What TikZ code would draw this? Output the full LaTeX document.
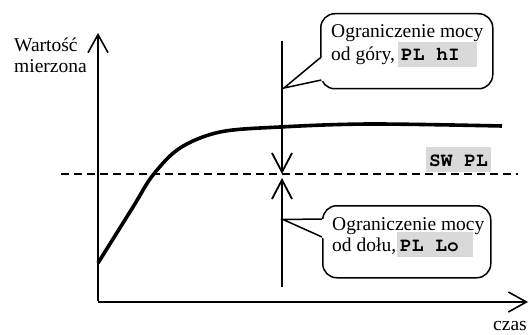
\documentclass[tikz,border=0pt]{standalone}
\usepackage[T1]{fontenc}
\usepackage{fontspec}
\setmainfont{Liberation Serif}
\usetikzlibrary{arrows.meta}
\definecolor{codegray}{RGB}{217,217,217}
% bold Courier for the parameter codes, one full cell between words
\newcommand{\codefontsel}{\fontencoding{T1}\fontfamily{pcr}\fontseries{b}\fontshape{n}\fontsize{19.5}{21}\selectfont}
\newcommand{\cell}{\hspace{0.6em}}
\begin{document}
\begin{tikzpicture}[x=1pt,y=-1pt,
  font=\fontsize{19.5}{21}\selectfont,
  every node/.style={inner sep=0pt},
  axis/.style={line width=1.6pt,-{Straight Barb[length=18pt,width=20pt,sharp]}},
  curve/.style={line width=3.6pt},
  level/.style={line width=1.6pt,dash pattern=on 8pt off 5pt},
  limit/.style={line width=1.8pt,-{Straight Barb[length=19pt,width=20pt,sharp]}},
  bubble/.style={draw,line width=1.5pt,rounded corners=14pt,fill=white},
  pointer/.style={line width=1.5pt},
  txt/.style={anchor=base west},
  code/.style={fill=codegray,anchor=base west,font=\codefontsel,
    inner xsep=3pt,inner ysep=0pt,text height=19pt,text depth=6pt,align=left}
]
\useasboundingbox (0,0) rectangle (529,334);

% axes
\coordinate (origin) at (98,302);
\coordinate (ytop) at (98,33);
\coordinate (xend) at (528,302);
\draw[axis] ([yshift=0.8pt]origin) -- (ytop);
\draw[axis] (origin) -- (xend);
\node[txt] (ylab1) at (14,52) {Wartość};
\node[txt] (ylab2) at (14,73) {mierzona};
\node[txt] (xlab) at (493,330) {czas};

% set point level
\coordinate (lvlA) at (61,174);
\coordinate (lvlB) at (518,174);
\draw[level] (lvlA) -- (lvlB);
\node[code,text width=59pt] (sw) at (426,166) {SW\cell PL};

% measured value
\draw[curve] plot[smooth,tension=0.55] coordinates
  {(98,263) (133,207) (153,175) (180,148) (220,132) (280,127) (370,124) (502,126)};

% callout: upper limit
\node[bubble,minimum width=172pt,minimum height=75pt,anchor=north west] (boxA) at (320,13) {};
\coordinate (tipA) at (284,88);
\fill[white] (tipA) -- (323,57) -- (323,81) -- cycle;
\draw[pointer] (320,58) -- (tipA) -- (321.3,80);
\node[txt] (a1) at (331,38) {Ograniczenie mocy};
\node[txt] (a2) at (331,61) {od góry,};
\node[code,text width=73pt] (a3) at (398,61) {PL\cell hI};

% callout: lower limit
\node[bubble,minimum width=168pt,minimum height=72pt,anchor=north west] (boxB) at (322,205) {};
\coordinate (tipB) at (283,219.5);
\fill[white] (283,219) -- (325,219) -- (325,239) -- cycle;
\draw[pointer] (322,219) -- (tipB) -- (322,237);
\node[txt] (b1) at (332,230) {Ograniczenie mocy};
\node[txt] (b2) at (332,251) {od dołu,};
\node[code,text width=70pt] (b3) at (397,251) {PL\cell Lo};

% limit markers
\coordinate (hiTop) at (282,41);
\coordinate (hiEnd) at (282,174);
\coordinate (loBot) at (282,287);
\coordinate (loEnd) at (282,178);
\draw[limit] (hiTop) -- (hiEnd);
\draw[limit] (loBot) -- (loEnd);
\end{tikzpicture}
\end{document}
